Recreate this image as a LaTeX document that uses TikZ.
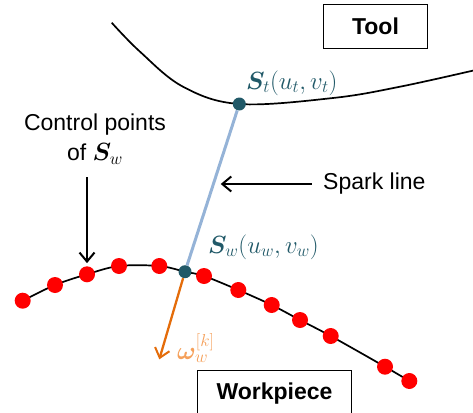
\documentclass[tikz,border=0pt]{standalone}
\usepackage{amsmath}
\usepackage{bm}
\usepackage[no-math]{fontspec}
\setmainfont{Liberation Sans}
\usepackage{tikz}
\usetikzlibrary{arrows.meta}
\usepackage{xcolor}
\definecolor{tealpt}{RGB}{33,89,104}
\definecolor{sparkblue}{RGB}{149,179,215}
\definecolor{normorange}{RGB}{228,108,10}
\definecolor{lightorange}{RGB}{245,160,90}
\tikzset{>={Straight Barb[length=9pt,width=15pt,line width=2pt]}}

\begin{document}
\begin{tikzpicture}[x=1pt, y=-1pt]
        % coordinates in pixels, y runs downward
        \tikzstyle{every node}=[font=\fontsize{23}{30}\selectfont, inner sep=2pt]
        \tikzstyle{ctrl}=[circle, fill=red, inner sep=0pt, minimum size=16pt]
        \tikzstyle{contact}=[circle, fill=tealpt, inner sep=0pt, minimum size=13pt]
        \tikzstyle{mathlab}=[anchor=west, font=\fontsize{24.5}{30}\selectfont]
        \tikzstyle{partbox}=[draw=black, line width=1.3pt, font=\fontsize{23}{30}\selectfont\bfseries]
        \useasboundingbox (0,0) rectangle (473,412);
        \clip (0,0) rectangle (473,412);

        % tool surface
        \draw[line width=1.7pt] plot[smooth, tension=0.6] coordinates
                {(111.7,22.7) (140,51.7) (183,86.7) (239.3,104) (333,98) (400,86.7) (480,69)};
        % workpiece surface
        \draw[line width=1.7pt] plot[smooth, tension=0.55] coordinates
                {(22.7,300.7) (55,285) (87,274.3) (119,266) (159.3,266) (185,271.7) (204,276)
                 (238.3,290) (271.7,305) (300,320) (330.7,336) (385,366.7) (409.3,381)};

        \node[partbox, minimum width=104pt, minimum height=44pt] (T) at (375.5,26.6) {Tool};
        \node[partbox, minimum width=154pt, minimum height=46pt] (W) at (274.5,393.7) {Workpiece};

        \node[contact] (St) at (239.3,104) {};
        \node[contact] (Sw) at (185,271.7) {};
        \draw[sparkblue, line width=3pt] (St) -- (Sw);

        \node[ctrl] (P1) at (22.7,300.7) {};
        \node[ctrl] (P2) at (55,285) {};
        \node[ctrl] (P3) at (87,274.3) {};
        \node[ctrl] (P4) at (119,266) {};
        \node[ctrl] (P5) at (159.3,266) {};
        \node[ctrl] (P6) at (204,276) {};
        \node[ctrl] (P7) at (238.3,290) {};
        \node[ctrl] (P8) at (271.7,305) {};
        \node[ctrl] (P9) at (300,320) {};
        \node[ctrl] (P10) at (330.7,336) {};
        \node[ctrl] (P11) at (385,366.7) {};
        \node[ctrl] (P12) at (409.3,381) {};

        \node[mathlab, tealpt] (Stlab) at (244,83) {$\bm{S}_t(u_t,v_t)$};
        \node[mathlab, tealpt] (Swlab) at (206,247) {$\bm{S}_w(u_w,v_w)$};
        \node[mathlab, lightorange] (omlab) at (175,348) {$\bm{\omega}_w^{[k]}$};

        \node[align=center] (ctl) at (95,139) {Control points\\of $\bm{S}_w$};
        \coordinate (ctop) at (87,177);
        \draw[->, line width=2pt, shorten >=3pt] (ctop) -- (P3);

        \node[anchor=west] (spk) at (321,184) {Spark line};
        \coordinate (sptail) at (311.7,184);
        \coordinate (sptip) at (220.7,184);
        \draw[->, line width=2pt] (sptail) -- (sptip);

        \coordinate (omtip) at (159.3,359.3);
        \draw[->, normorange, line width=2.3pt] (Sw) -- (omtip);
\end{tikzpicture}
\end{document}
